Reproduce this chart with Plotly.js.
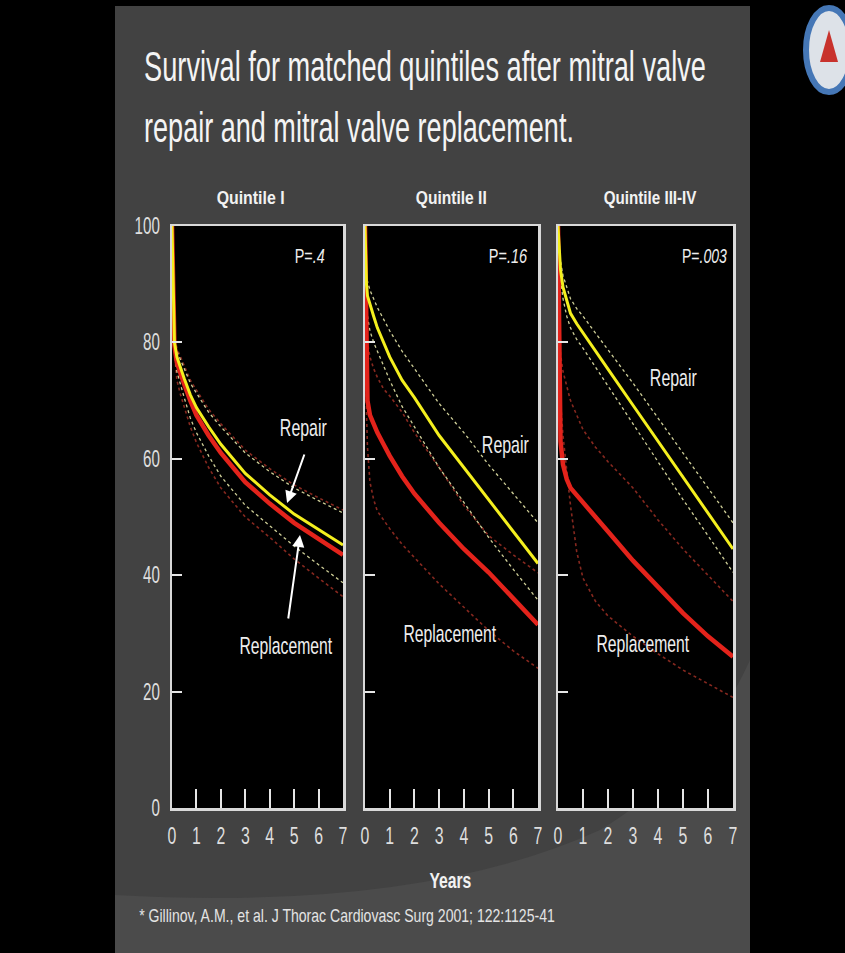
<!DOCTYPE html>
<html>
<head>
<meta charset="utf-8">
<script src="https://cdn.plot.ly/plotly-3.0.1.min.js"></script>
<style>
  html, body { margin: 0; padding: 0; background: #000; }
  #chart { width: 845px; height: 953px; }
</style>
</head>
<body>
<div id="chart"></div>
<script>
// ---------- DATA ----------
var years = [0, 0.03, 0.06, 0.1, 0.2, 0.35, 0.5, 0.75, 1, 1.5, 2, 3, 4, 5, 6, 7];
var xTickLabels = ["0", "1", "2", "3", "4", "5", "6", "7"];
var yTickLabels = ["0", "20", "40", "60", "80", "100"];
var panelTitles = ["Quintile I", "Quintile II", "Quintile III-IV"];
var pValues = [".4", ".16", ".003"];

// Quintile I
var q1Repair       = [100, 92, 85, 80, 77.5, 75.5, 73.8, 71, 68.8, 65.5, 62.5, 57.5, 53.8, 50.5, 47.8, 45.2];
var q1RepairUpper  = [100, 92, 85, 80.5, 78.5, 77, 75.5, 73, 71.3, 68, 65.5, 61, 57.8, 55, 52.8, 50.7];
var q1RepairLower  = [100, 91, 84, 79, 75, 72.5, 70.5, 67, 64.5, 60.5, 57, 52, 48.5, 45, 41.8, 38.7];
var q1Replace      = [100, 91, 84, 79.5, 76.5, 74.5, 72.8, 70, 67.5, 64, 61, 56, 52.3, 49, 46.2, 43.5];
var q1ReplaceUpper = [100, 92, 85.5, 81, 79, 77.5, 76, 73.5, 71.8, 68.5, 66, 61.5, 58.3, 55.5, 53.3, 51.2];
var q1ReplaceLower = [100, 90, 83, 78.5, 73.5, 71, 69, 65.5, 62.8, 58.5, 55, 50, 46.5, 42.8, 39.5, 36.3];

// Quintile II
var q2Repair       = [100, 94, 90, 88, 86.5, 84.5, 82.5, 80, 77.5, 73.5, 70.5, 64, 58.5, 53, 47.5, 42];
var q2RepairUpper  = [100, 95, 92, 90.5, 89, 87.5, 86, 84, 82, 78.5, 75.5, 69.5, 64.5, 59, 54, 49];
var q2RepairLower  = [100, 92, 87, 84.5, 82, 80, 78.5, 76, 73.5, 69, 65.5, 58.5, 52.5, 46.5, 41, 35.7];
var q2Replace      = [100, 85, 74, 70, 67.5, 66, 64.5, 62.5, 60.5, 57, 54, 49, 44.5, 40.5, 36, 31.5];
var q2ReplaceUpper = [100, 88, 82, 80, 77.5, 75.5, 74, 72, 70.8, 68, 64.5, 58.5, 52, 46.8, 43.5, 40.4];
var q2ReplaceLower = [100, 78, 68, 62, 56, 53, 51, 49.5, 48, 45.3, 43, 38.5, 34.5, 30.5, 27, 24];

// Quintile III-IV
var q3Repair       = [100, 97, 94.5, 92.5, 89.5, 87, 85, 83.2, 81.6, 78.5, 75.4, 69.2, 63, 56.8, 50.6, 44.5];
var q3RepairUpper  = [100, 97.5, 95.5, 94, 91.5, 89.5, 87.5, 85.8, 84.5, 81.6, 78.8, 73, 67, 61, 55, 49];
var q3RepairLower  = [100, 96.5, 93.5, 91, 87.5, 84.5, 82.5, 80.5, 79, 75.8, 72.5, 66, 59.5, 53, 46.8, 40.5];
var q3Replace      = [100, 85, 70, 63, 59, 56.5, 55, 53.8, 52.5, 50, 47.5, 42.5, 38, 33.5, 29.5, 26];
var q3ReplaceUpper = [100, 90, 84, 78, 75, 72.5, 70, 67.5, 65, 62, 59.5, 55, 49.5, 44.5, 40, 35.5];
var q3ReplaceLower = [100, 85, 76, 70, 64, 58, 52, 44, 39.5, 35.5, 33, 29.5, 26.5, 23.7, 21.3, 19];

var panels = [
  {rep: q1Repair, repU: q1RepairUpper, repL: q1RepairLower, rpl: q1Replace, rplU: q1ReplaceUpper, rplL: q1ReplaceLower},
  {rep: q2Repair, repU: q2RepairUpper, repL: q2RepairLower, rpl: q2Replace, rplU: q2ReplaceUpper, rplL: q2ReplaceLower},
  {rep: q3Repair, repU: q3RepairUpper, repL: q3RepairLower, rpl: q3Replace, rplU: q3ReplaceUpper, rplL: q3ReplaceLower}
];

// ---------- STYLE ----------
var FONT = '"Liberation Sans", Arial, sans-serif';
var W = 845, H = 953;
var YELLOW = '#f4ef1e', YELLOW_CI = '#cfcf98', RED = '#e3231b', RED_CI = '#86281f';
var xDomains = [[172 / W, 343 / W], [365 / W, 538 / W], [558 / W, 733 / W]];
var yDomain = [1 - 808 / H, 1 - 226 / H];
var TICK_SQUEEZE = 0.66;   // the slide's lettering is horizontally condensed

var traces = [];
panels.forEach(function (p, i) {
  var xa = i === 0 ? 'x' : 'x' + (i + 1);
  var ya = i === 0 ? 'y' : 'y' + (i + 1);
  function add(y, color, width, dash, name) {
    traces.push({x: years, y: y, xaxis: xa, yaxis: ya, mode: 'lines', name: name,
      line: {color: color, width: width, dash: dash}, hoverinfo: 'skip', showlegend: false});
  }
  add(p.rplU, RED_CI, 1.6, 'dot', 'Replacement upper CL');
  add(p.rplL, RED_CI, 1.6, 'dot', 'Replacement lower CL');
  add(p.repU, YELLOW_CI, 1.3, 'dot', 'Repair upper CL');
  add(p.repL, YELLOW_CI, 1.3, 'dot', 'Repair lower CL');
  add(p.rpl, RED, 4.5, 'solid', 'Replacement');
  add(p.rep, YELLOW, 3, 'solid', 'Repair');
});

var shapes = [
  {type: 'rect', xref: 'paper', yref: 'paper', x0: 115 / W, x1: 750 / W, y0: 0, y1: 1 - 6 / H,
    fillcolor: '#424242', line: {width: 0}, layer: 'below'},
  {type: 'path', xref: 'paper', yref: 'paper', layer: 'below', line: {width: 0}, fillcolor: '#4b4b4b',
    path: 'M ' + (115 / W) + ' 0 L ' + (115 / W) + ' ' + (1 - 895 / H) +
          ' Q ' + (420 / W) + ' ' + (1 - 912 / H) + ' ' + (600 / W) + ' ' + (1 - 830 / H) +
          ' Q ' + (700 / W) + ' ' + (1 - 770 / H) + ' ' + (750 / W) + ' ' + (1 - 660 / H) +
          ' L ' + (750 / W) + ' 0 Z'},
  // logo (partly cut by the right edge)
  {type: 'circle', xref: 'paper', yref: 'paper', x0: 806 / W, x1: 852 / W, y0: 1 - 92 / H, y1: 1 - 8 / H,
    fillcolor: '#dde2e8', line: {color: '#4577b6', width: 6}},
  {type: 'path', xref: 'paper', yref: 'paper', fillcolor: '#c8322c', line: {width: 0},
    path: 'M ' + (820 / W) + ' ' + (1 - 62 / H) + ' L ' + (829 / W) + ' ' + (1 - 30 / H) +
          ' L ' + (838 / W) + ' ' + (1 - 62 / H) + ' Z'}
];

var layout = {
  width: W, height: H,
  margin: {l: 0, r: 0, t: 0, b: 0},
  paper_bgcolor: '#000000',
  plot_bgcolor: '#000000',
  font: {family: FONT, color: '#e8e8e8'},
  showlegend: false,
  shapes: shapes,
  annotations: []
};

var fitWidths = [];   // target rendered width (px) of each annotation, null = untouched
function addAnn(a, w) { layout.annotations.push(a); fitWidths.push(w == null ? null : w); }

for (var i = 0; i < 3; i++) {
  var sfx = i === 0 ? '' : String(i + 1);
  // black plotting area drawn over the slide background
  shapes.push({type: 'rect', xref: 'x' + sfx + ' domain', yref: 'y' + sfx + ' domain',
    x0: 0, x1: 1, y0: 0, y1: 1, fillcolor: '#000000', line: {width: 0}, layer: 'below'});
  layout['xaxis' + sfx] = {
    domain: xDomains[i], anchor: 'y' + sfx, range: [0, 7],
    tickvals: [0, 1, 2, 3, 4, 5, 6, 7], ticktext: xTickLabels,
    ticks: 'inside', ticklen: 19, tickwidth: 2, tickcolor: '#e6e6e6',
    showline: true, linecolor: '#d9d9d9', linewidth: 2.5, mirror: true,
    showgrid: false, zeroline: false, fixedrange: true,
    ticklabelstandoff: 5,
    tickfont: {family: FONT, size: 24, color: '#dedede'}
  };
  layout['yaxis' + sfx] = {
    domain: yDomain, anchor: 'x' + sfx, range: [0, 100],
    tickvals: [0, 20, 40, 60, 80, 100], ticktext: yTickLabels,
    ticks: 'inside', ticklen: 10, tickwidth: 2, tickcolor: '#e6e6e6',
    showline: true, linecolor: '#d9d9d9', linewidth: 2.5, mirror: true,
    showgrid: false, zeroline: false, fixedrange: true,
    showticklabels: i === 0, ticklabelstandoff: 5,
    tickfont: {family: FONT, size: 23, color: '#dedede'}
  };
  addAnn({text: '<b>' + panelTitles[i] + '</b>', xref: 'paper', yref: 'paper',
    x: [250, 451, 650][i] / W, y: 1 - 198 / H, showarrow: false, xanchor: 'center', yanchor: 'middle',
    font: {family: FONT, size: 19, color: '#f2f2f2'}}, [68, 71, 93][i]);
  addAnn({text: 'P=<i>' + pValues[i] + '</i>', xref: 'x' + sfx, yref: 'y' + sfx,
    x: [6.34, 6.68, 6.84][i], y: 94.8, showarrow: false, xanchor: 'right', yanchor: 'middle',
    font: {family: FONT, size: 20, color: '#eeeeee'}}, [30, 39, 45][i]);
  addAnn({text: 'Repair', xref: 'x' + sfx, yref: 'y' + sfx,
    x: [5.37, 5.67, 4.6][i], y: [65.3, 62.5, 74][i], showarrow: false, xanchor: 'center', yanchor: 'middle',
    font: {family: FONT, size: 24, color: '#eeeeee'}}, 47);
  addAnn({text: 'Replacement', xref: 'x' + sfx, yref: 'y' + sfx,
    x: [4.67, 3.44, 3.4][i], y: [28, 30, 28.2][i], showarrow: false, xanchor: 'center', yanchor: 'middle',
    font: {family: FONT, size: 24, color: '#eeeeee'}}, 93);
}

// arrows in Quintile I
addAnn({text: '', xref: 'x', yref: 'y', axref: 'x', ayref: 'y',
  x: 4.71, y: 52.4, ax: 5.44, ay: 61, showarrow: true, arrowhead: 2, arrowsize: 1.2,
  arrowwidth: 2, arrowcolor: '#ffffff'}, null);
addAnn({text: '', xref: 'x', yref: 'y', axref: 'x', ayref: 'y',
  x: 5.24, y: 46.9, ax: 4.75, ay: 32.3, showarrow: true, arrowhead: 2, arrowsize: 1.2,
  arrowwidth: 2, arrowcolor: '#ffffff'}, null);

// slide texts
addAnn({text: 'Survival for matched quintiles after mitral valve', xref: 'paper', yref: 'paper',
  x: 142 / W, y: 1 - 67 / H, showarrow: false, xanchor: 'left', yanchor: 'middle',
  font: {family: FONT, size: 42, color: '#f4f4f4'}}, 562);
addAnn({text: 'repair and mitral valve replacement.', xref: 'paper', yref: 'paper',
  x: 142 / W, y: 1 - 127 / H, showarrow: false, xanchor: 'left', yanchor: 'middle',
  font: {family: FONT, size: 42, color: '#f4f4f4'}}, 430);
addAnn({text: '<b>Years</b>', xref: 'paper', yref: 'paper',
  x: 450 / W, y: 1 - 880 / H, showarrow: false, xanchor: 'center', yanchor: 'middle',
  font: {family: FONT, size: 22, color: '#f2f2f2'}}, 42);
addAnn({text: '* Gillinov, A.M., et al. J Thorac Cardiovasc Surg 2001; 122:1125-41', xref: 'paper', yref: 'paper',
  x: 137 / W, y: 1 - 916 / H, showarrow: false, xanchor: 'left', yanchor: 'middle',
  font: {family: FONT, size: 18, color: '#e4e4e4'}}, 416);

function squeeze(el, s, anchor) {
  var bb = el.getBBox();
  if (!bb.width) return;
  var ox = anchor === 'left' ? bb.x : anchor === 'right' ? bb.x + bb.width : bb.x + bb.width / 2;
  var prev = el.getAttribute('transform') || '';
  el.setAttribute('transform', (prev + ' translate(' + ox + ',0) scale(' + s + ',1) translate(' + (-ox) + ',0)').trim());
}

Plotly.newPlot('chart', traces, layout, {displayModeBar: false, staticPlot: true}).then(function (gd) {
  gd.querySelectorAll('g.annotation').forEach(function (g) {
    var idx = +g.getAttribute('data-index');
    var w = fitWidths[idx];
    var t = g.querySelector('text.annotation-text');
    if (!w || !t) return;
    var bb = t.getBBox();
    if (!bb.width) return;
    squeeze(t, w / bb.width, layout.annotations[idx].xanchor);
  });
  gd.querySelectorAll('g.xtick text, g.x2tick text, g.x3tick text').forEach(function (t) { squeeze(t, TICK_SQUEEZE, 'center'); });
  gd.querySelectorAll('g.ytick text').forEach(function (t) { squeeze(t, TICK_SQUEEZE, 'right'); });
});
</script>
</body>
</html>
